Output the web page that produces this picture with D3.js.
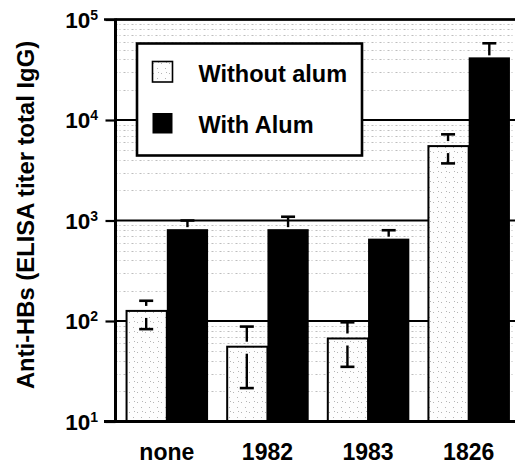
<!DOCTYPE html>
<html>
<head>
<meta charset="utf-8">
<script src="https://cdn.jsdelivr.net/npm/d3@7"></script>
<style>
  html, body { margin: 0; padding: 0; background: #fff; }
  svg { display: block; font-family: "Liberation Sans", Arial, Helvetica, sans-serif; font-weight: bold; }
</style>
</head>
<body>
<svg id="chart" width="515" height="464"></svg>
<script>
// Vaccine groups along the x axis
const categories = ["none", "1982", "1983", "1826"];
const seriesNames = ["Without alum", "With Alum"];

// Anti-HBs titres (geometric scale), with error bar ends
const withoutAlum     = [126, 55.5, 67, 5500];
const withoutAlumHigh = [159, 88, 97, 7200];
const withoutAlumLow  = [83, 21.5, 35, 3700];

const withAlum     = [820, 820, 660, 42000];
const withAlumHigh = [1000, 1090, 800, 58000];
const withAlumLow  = [640, 550, 520, 26000];

// Decade ticks, labelled as powers of ten
const yTickValues = [1e1, 1e2, 1e3, 1e4, 1e5];
const yTickExponents = ["1", "2", "3", "4", "5"];

const yTitle = "Anti-HBs (ELISA titer total IgG)";

const W = 515, H = 464;
const axisX = 115.5, plotTop = 19.5, plotBottom = 421.5;

const svg = d3.select("#chart");
const defs = svg.append("defs");

// light stipple used for the bars without adjuvant
const pat = defs.append("pattern")
  .attr("id", "stipple")
  .attr("patternUnits", "userSpaceOnUse")
  .attr("width", 8).attr("height", 10);
pat.append("rect").attr("width", 8).attr("height", 10).attr("fill", "#fdfdfd");
[[1, 2], [5, 7], [6, 1]].forEach(([px, py]) => {
  pat.append("rect").attr("x", px).attr("y", py).attr("width", 1).attr("height", 1).attr("fill", "#b4b4b4");
});

const y = d3.scaleLog().domain([1e1, 1e5]).range([plotBottom, plotTop]);
const x = d3.scaleBand().domain(categories).range([axisX, 520])
  .paddingInner(0.18).paddingOuter(0.1);
const xs = d3.scaleBand().domain(seriesNames).range([0, x.bandwidth()]);

// minor gridlines (2..9 within each decade)
const minor = y.ticks().filter(v => !yTickValues.includes(v));
svg.append("g").selectAll("line").data(minor).join("line")
  .attr("x1", axisX).attr("x2", W)
  .attr("y1", d => Math.round(y(d)) + 0.5).attr("y2", d => Math.round(y(d)) + 0.5)
  .attr("stroke", "#bdbdbd").attr("stroke-width", 1)
  .attr("stroke-dasharray", "2 2 1 3");

// major gridlines at each decade
svg.append("g").selectAll("line").data(yTickValues.filter(v => v !== 1e1)).join("line")
  .attr("x1", axisX).attr("x2", W)
  .attr("y1", d => y(d)).attr("y2", d => y(d))
  .attr("stroke", "#000").attr("stroke-width", 2.2);

// bars
const series = [
  { name: seriesNames[0], vals: withoutAlum, hi: withoutAlumHigh, lo: withoutAlumLow },
  { name: seriesNames[1], vals: withAlum, hi: withAlumHigh, lo: withAlumLow }
];
const barsG = svg.append("g");
series.forEach((s, si) => {
  barsG.append("g").selectAll("rect").data(categories).join("rect")
    .attr("x", c => x(c) + xs(s.name) + (si === 0 ? 1 : 0))
    .attr("y", (c, i) => y(s.vals[i]))
    .attr("width", xs.bandwidth() - (si === 0 ? 1 : 0))
    .attr("height", (c, i) => plotBottom - y(s.vals[i]))
    .attr("fill", si === 0 ? "url(#stipple)" : "#000")
    .attr("stroke", "#000")
    .attr("stroke-width", si === 0 ? 2 : 0);
});

// error bars: the stem breaks briefly where it crosses the bar top
series.forEach((s, si) => {
  const g = svg.append("g").attr("stroke", "#000").attr("stroke-width", 2.4);
  const gap = si === 0 ? 5 : 2;
  categories.forEach((c, i) => {
    const cx = x(c) + xs(s.name) + xs.bandwidth() / 2;
    const yt = y(s.vals[i]), yh = y(s.hi[i]), yl = y(s.lo[i]);
    const hw = 7;
    g.append("line").attr("x1", cx - hw).attr("x2", cx + hw).attr("y1", yh).attr("y2", yh).attr("stroke-width", 2.6);
    g.append("line").attr("x1", cx).attr("x2", cx).attr("y1", yh).attr("y2", Math.max(yh, yt - gap));
    if (si === 0) {
      g.append("line").attr("x1", cx).attr("x2", cx).attr("y1", Math.min(yl, yt + gap + 2)).attr("y2", yl);
      g.append("line").attr("x1", cx - hw).attr("x2", cx + hw).attr("y1", yl).attr("y2", yl).attr("stroke-width", 2.6);
    }
  });
});

// top frame line and x axis line
svg.append("line").attr("x1", 104).attr("x2", W).attr("y1", y(1e5)).attr("y2", y(1e5))
  .attr("stroke", "#000").attr("stroke-width", 2.4);
svg.append("line").attr("x1", 104).attr("x2", W).attr("y1", y(1e1)).attr("y2", y(1e1))
  .attr("stroke", "#000").attr("stroke-width", 3);

// y axis
const yAxis = d3.axisLeft(y).tickValues(yTickValues).tickSize(10).tickSizeOuter(0).tickFormat("");
const yAxisG = svg.append("g").attr("transform", `translate(${axisX},0)`).call(yAxis);
yAxisG.select(".domain").attr("stroke", "#000").attr("stroke-width", 3)
  .attr("d", `M0,${plotTop - 1}V${plotBottom + 1.5}`);
yAxisG.selectAll(".tick line").attr("stroke", "#000").attr("stroke-width", 2.2);

// power-of-ten tick labels
const lab = svg.append("g").selectAll("text").data(yTickValues).join("text")
  .attr("x", 98).attr("y", d => y(d) + 8)
  .attr("text-anchor", "end")
  .attr("font-size", 22.5)
  .attr("fill", "#000");
lab.append("tspan").text("10");
lab.append("tspan").attr("dy", -8).attr("font-size", 14).text((d, i) => yTickExponents[i]);

// x axis category labels
const xAxis = d3.axisBottom(x).tickSize(0).tickPadding(0);
const xAxisG = svg.append("g").attr("transform", `translate(0,${plotBottom})`).call(xAxis);
xAxisG.select(".domain").remove();
xAxisG.selectAll("text")
  .attr("dy", null).attr("y", 38.5)
  .attr("font-size", 23).attr("font-family", "Liberation Sans, Arial, sans-serif")
  .attr("font-weight", "bold").attr("fill", "#000");

// y axis title
svg.append("text")
  .attr("transform", `translate(34,215) rotate(-90)`)
  .attr("text-anchor", "middle")
  .attr("font-size", 23.8)
  .attr("fill", "#000")
  .text(yTitle);

// legend
const leg = svg.append("g");
leg.append("rect").attr("x", 137).attr("y", 43.5).attr("width", 225).attr("height", 112)
  .attr("fill", "#fff").attr("stroke", "#000").attr("stroke-width", 2.6);
const legRows = leg.selectAll("g.row").data(seriesNames).join("g").attr("class", "row")
  .attr("transform", (d, i) => `translate(152,${61 + i * 51.5})`);
legRows.append("rect").attr("x", 0.5).attr("y", 0.5).attr("width", 20).attr("height", 20.5)
  .attr("fill", (d, i) => i === 0 ? "url(#stipple)" : "#000")
  .attr("stroke", "#000").attr("stroke-width", (d, i) => i === 0 ? 1.6 : 0);
legRows.append("text").attr("x", 46.5).attr("y", 20.5)
  .attr("font-size", 23.5).attr("fill", "#000")
  .text(d => d);
</script>
</body>
</html>
